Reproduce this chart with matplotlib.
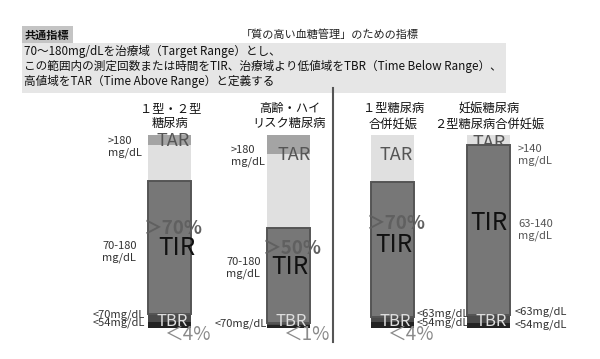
import matplotlib
matplotlib.use("Agg")
import matplotlib.pyplot as plt
from matplotlib.patches import Rectangle

plt.rcParams['font.family'] = ['Noto Sans CJK JP', 'DejaVu Sans']

# data (percent of time)
categories = ["１型・２型\n糖尿病", "高齢・ハイ\nリスク糖尿病",
              "１型糖尿病\n合併妊娠", "妊娠糖尿病\n２型糖尿病合併妊娠"]
tbr_very_low = [3, 1.5, 3, 2.5]      # <54 mg/dL
tbr_low = [4, 1, 2.5, 4]             # 54-70 (63) mg/dL
tir = [69, 49, 70, 88.5]             # in range
tar_high = [19, 38.5, 24.5, 5]       # above range
tar_very_high = [5, 10, 0, 0]        # far above range
tir_goal = ["＞70%", "＞50%", "＞70%", ""]
tbr_goal = ["＜4%", "＜1%", "＜4%", ""]

title = "「質の高い血糖管理」のための指標"
header = "共通指標"
body = ["70〜180mg/dLを治療域（Target Range）とし、",
        "この範囲内の測定回数または時間をTIR、治療域より低値域をTBR（Time Below Range）、",
        "高値域をTAR（Time Above Range）と定義する"]

# layout (pixels)
W, H = 600, 359
bar_x = [169.5, 288.5, 392.5, 488]
bar_w = 43
y0_px, y100_px = 327.5, 135

fig = plt.figure(figsize=(W / 100, H / 100), dpi=100)
ax0 = fig.add_axes([0, 0, 1, 1])
ax0.set_xlim(0, W)
ax0.set_ylim(H, 0)
ax0.axis('off')

axb = fig.add_axes([0, (H - y0_px) / H, 1, (y0_px - y100_px) / H])
axb.set_xlim(0, W)
axb.set_ylim(0, 100)
axb.axis('off')
axb.patch.set_alpha(0)
px = ax0.transData

# header area
ax0.add_patch(Rectangle((22, 43), 484, 50, color='#e6e6e6', lw=0))
ax0.add_patch(Rectangle((22, 26), 51, 17, color='#c4c4c4', lw=0))
ax0.text(25, 35, header, fontsize=8, fontweight='bold', va='center', color='#111')
ax0.text(330, 35, title, fontsize=8, ha='center', va='center', color='#222')
for i, line in enumerate(body):
    ax0.text(24, 51 + i * 15, line, fontsize=8.4, va='center', color='#111')
ax0.plot([333, 333], [88, 342], color='#555', lw=1.5)

# stacked bars
axb.bar(bar_x, tbr_very_low, width=bar_w, color='#232323', zorder=2)
axb.bar(bar_x, tbr_low, bottom=tbr_very_low, width=bar_w, color='#4a4a4a', zorder=2)
bot = [a + c for a, c in zip(tbr_very_low, tbr_low)]
axb.bar(bar_x, tir, bottom=bot, width=bar_w, color='#777777',
        edgecolor='#555555', lw=1.4, zorder=3)
bot = [a + c for a, c in zip(bot, tir)]
axb.bar(bar_x, tar_high, bottom=bot, width=bar_w, color='#e0e0e0', zorder=1)
bot = [a + c for a, c in zip(bot, tar_high)]
axb.bar(bar_x, tar_very_high, bottom=bot, width=bar_w, color='#a4a4a4', zorder=1)

# category titles
for x, c in zip(bar_x, categories):
    ax0.text(x + 1, 116, c, fontsize=8.8, ha='center', va='center',
             linespacing=1.25, color='#111')

def t(x, y, s, **kw):
    kw.setdefault('ha', 'center')
    kw.setdefault('va', 'center')
    axb.text(x, y, s, transform=px, **kw)

# labels in the bars
tar_y = [141, 155, 155, 143]
tar_dx = [4, 6, 4, 1]
tir_y = [248, 267, 245, 223]
tir_dx = [7, 1, 1, 1]
goal_y = [228, 248, 223]
goal_dx = [4, 4, 4]
for i, x in enumerate(bar_x):
    t(x + tar_dx[i], tar_y[i], "TAR", fontsize=13, color='#555', zorder=2)
    t(x + tir_dx[i], tir_y[i], "TIR", fontsize=17.5, color='#111', zorder=5)
    t(x + 3, 321, "TBR", fontsize=12, color='#ddd', zorder=5)
    if tir_goal[i]:
        t(x + goal_dx[i], goal_y[i], tir_goal[i], fontsize=13.5, color='#606060',
          fontweight='bold', zorder=4)
    if tbr_goal[i]:
        t(x + 18, 334, tbr_goal[i], fontsize=13.5, color='#8a8a8a', zorder=5)

# range labels
lc = '#333'
fs = 8
t(108, 147, ">180\nmg/dL", fontsize=fs, ha='left', color=lc, linespacing=1.15)
t(102, 252, "70-180\nmg/dL", fontsize=fs, ha='left', color=lc, linespacing=1.15)
t(145, 315, "<70mg/dL", fontsize=fs, ha='right', color=lc)
t(145, 323, "<54mg/dL", fontsize=fs, ha='right', color=lc)
t(231, 156, ">180\nmg/dL", fontsize=fs, ha='left', color=lc, linespacing=1.15)
t(226, 268, "70-180\nmg/dL", fontsize=fs, ha='left', color=lc, linespacing=1.15)
t(267, 324, "<70mg/dL", fontsize=fs, ha='right', color=lc)
t(417, 314, "<63mg/dL", fontsize=fs, ha='left', color=lc, zorder=6)
t(417, 323, "<54mg/dL", fontsize=fs, ha='left', color=lc, zorder=6)
t(518, 155, ">140\nmg/dL", fontsize=fs, ha='left', color='#555', linespacing=1.15)
t(518, 230, "63-140\nmg/dL", fontsize=fs, ha='left', color='#555', linespacing=1.15)
t(515, 312, "<63mg/dL", fontsize=fs, ha='left', color=lc)
t(515, 325, "<54mg/dL", fontsize=fs, ha='left', color=lc)

fig.savefig('out.png', dpi=100)
